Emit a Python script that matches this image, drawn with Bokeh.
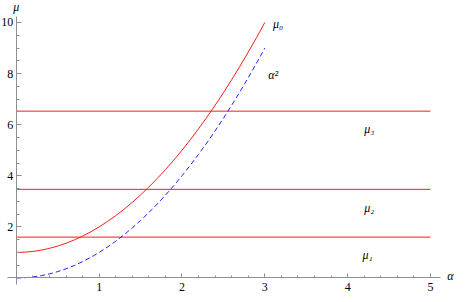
from bokeh.plotting import figure
from bokeh.models import Range1d, FixedTicker, Label
from bokeh.embed import file_html
from bokeh.resources import INLINE

# ---- data ----
alpha = [0.0, 0.1, 0.2, 0.3, 0.4, 0.5, 0.6, 0.7, 0.8, 0.9, 1.0,
         1.1, 1.2, 1.3, 1.4, 1.5, 1.6, 1.7, 1.8, 1.9, 2.0,
         2.1, 2.2, 2.3, 2.4, 2.5, 2.6, 2.7, 2.8, 2.9, 3.0]
mu0 = [1.0, 1.01, 1.04, 1.09, 1.16, 1.25, 1.36, 1.49, 1.64, 1.81, 2.0,
       2.21, 2.44, 2.69, 2.96, 3.25, 3.56, 3.89, 4.24, 4.61, 5.0,
       5.41, 5.84, 6.29, 6.76, 7.25, 7.76, 8.29, 8.84, 9.41, 10.0]
alpha_sq = [0.0, 0.01, 0.04, 0.09, 0.16, 0.25, 0.36, 0.49, 0.64, 0.81, 1.0,
            1.21, 1.44, 1.69, 1.96, 2.25, 2.56, 2.89, 3.24, 3.61, 4.0,
            4.41, 4.84, 5.29, 5.76, 6.25, 6.76, 7.29, 7.84, 8.41, 9.0]
level_values = [1.60, 3.47, 6.53]
level_start = [0.0, 0.0, 0.0]
level_end = [5.0, 5.0, 5.0]
level_names = ["μ₁", "μ₂", "μ₃"]
x_ticks = [1, 2, 3, 4, 5]
y_ticks = [2, 4, 6, 8, 10]
x_minor = [round(0.2 * i, 1) for i in range(1, 26) if i % 5 != 0]
y_minor = [round(0.5 * i, 1) for i in range(1, 21) if i % 4 != 0]

FONT = "Liberation Serif"

p = figure(width=457, height=294, output_backend="svg", toolbar_location=None,
           title=None, x_range=Range1d(-0.1907, 5.326), y_range=Range1d(-0.646, 10.861),
           min_border=0)
p.grid.visible = False
p.outline_line_color = None
p.background_fill_color = "white"
p.border_fill_color = "white"

axis_gray = "#8f8f8f"
for ax in (p.xaxis[0], p.yaxis[0]):
    ax.fixed_location = 0
    ax.axis_line_color = axis_gray
    ax.major_tick_line_color = axis_gray
    ax.minor_tick_line_color = axis_gray
    ax.major_tick_out = 0
    ax.minor_tick_out = 0
    ax.major_label_text_font = FONT
    ax.major_label_text_font_size = "12px"
    ax.major_label_text_color = "#000000"

p.xaxis.ticker = FixedTicker(ticks=x_ticks, minor_ticks=x_minor)
p.yaxis.ticker = FixedTicker(ticks=y_ticks, minor_ticks=y_minor)
p.xaxis.bounds = (-0.107, 5.12)
p.yaxis.bounds = (-0.24, 10.24)
p.xaxis.major_tick_in = 4
p.xaxis.minor_tick_in = 2
p.yaxis.major_tick_in = 5
p.yaxis.minor_tick_in = 3
p.xaxis.major_label_standoff = 5
p.yaxis.major_label_standoff = 3

# horizontal levels
p.segment(x0=level_start, y0=level_values, x1=level_end, y1=level_values,
          line_color="#ff1a1a", line_width=1)
# curves
p.line(alpha, mu0, line_color="#ff1a1a", line_width=1)
p.line(alpha, alpha_sq, line_color="#2020ff", line_width=1, line_dash="5 3")

def lab(x, y, t, align="left"):
    p.add_layout(Label(x=x, y=y, text=t, text_font=FONT,
                       text_font_style="italic", text_font_size="12px",
                       text_color="#000000", text_align=align,
                       text_baseline="middle"))

lab(3.1, 9.95, "μ₀")
lab(3.04, 7.95, "α²")
label_x = [4.18, 4.2, 4.2]
label_y = [0.9, 2.74, 5.84]
for x, y, t in zip(label_x, label_y, level_names):
    lab(x, y, t)
lab(0.0, 10.62, "μ", align="center")
lab(5.24, 0.06, "α", align="center")

open("out.html", "w").write(file_html(p, INLINE))
